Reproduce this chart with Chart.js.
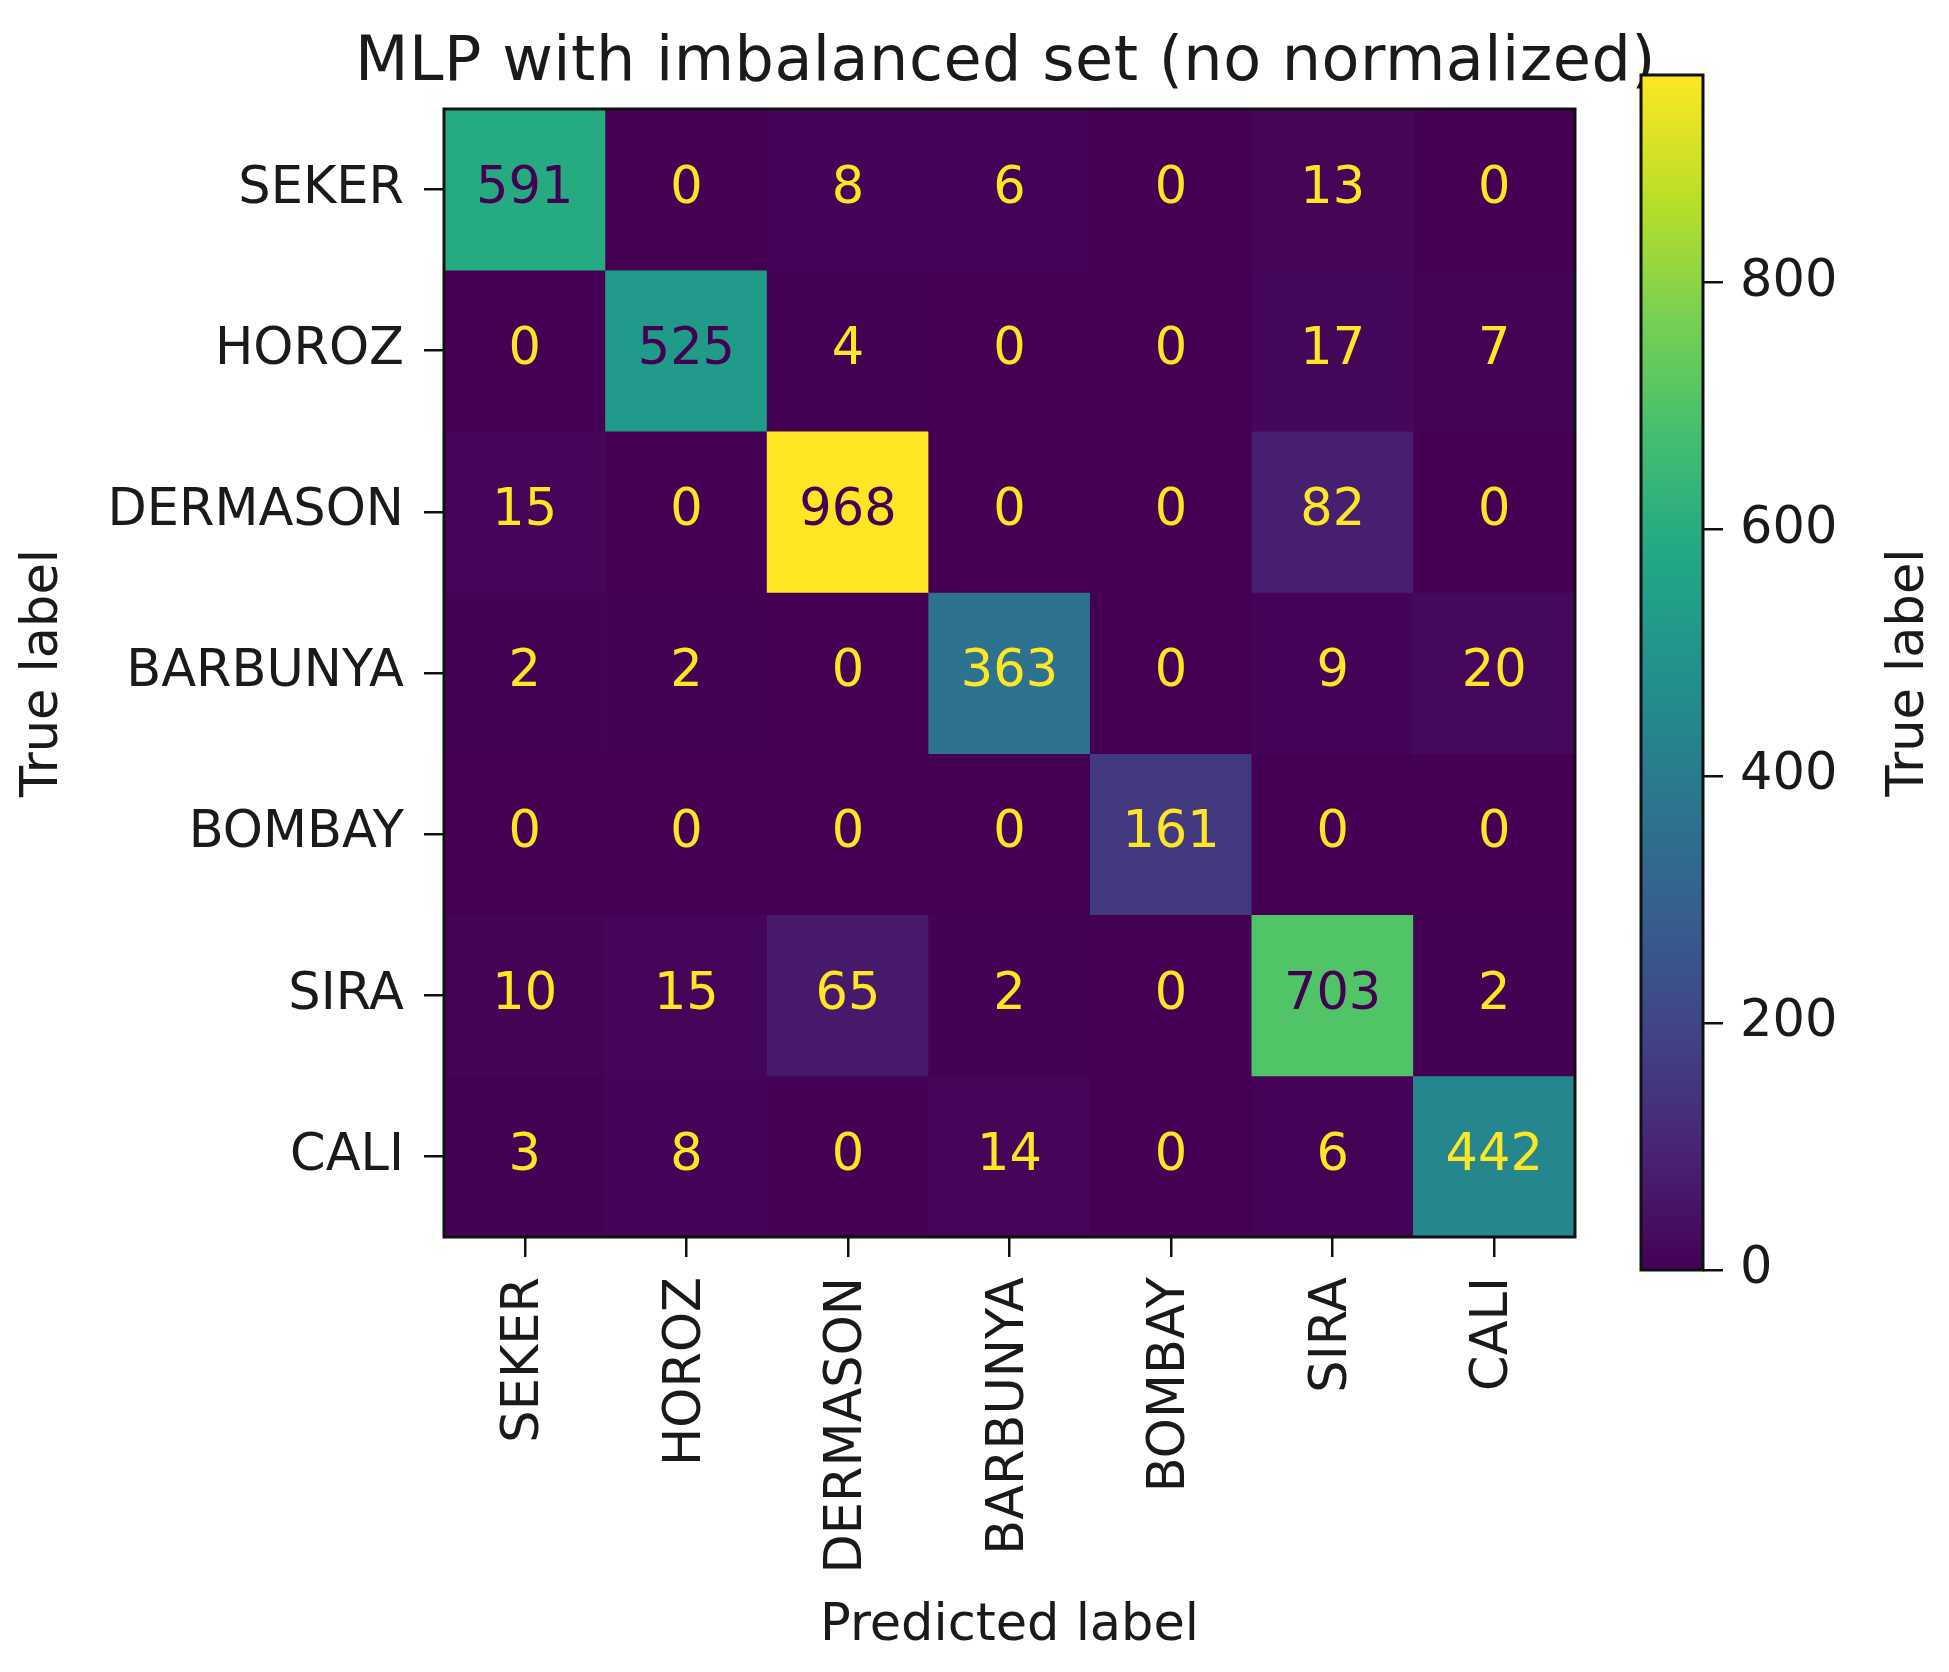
<!DOCTYPE html>
<html>
<head>
<meta charset="utf-8">
<script src="https://cdn.jsdelivr.net/npm/chart.js@4.4.1/dist/chart.umd.min.js"></script>
<style>
  html, body { margin: 0; padding: 0; background: #ffffff; }
  #wrap { position: relative; width: 1949px; height: 1672px; }
  #matrix { position: absolute; left: 0; top: 0; }
  #colorbar { position: absolute; left: 1560px; top: 0; }
</style>
</head>
<body>
<div id="wrap">
  <canvas id="matrix" width="1949" height="1672"></canvas>
  <canvas id="colorbar" width="389" height="1672"></canvas>
</div>
<script>
// confusion matrix: rows = true label, columns = predicted label
const classNames = ['SEKER', 'HOROZ', 'DERMASON', 'BARBUNYA', 'BOMBAY', 'SIRA', 'CALI'];
const rowSeker    = [591, 0, 8, 6, 0, 13, 0];
const rowHoroz    = [0, 525, 4, 0, 0, 17, 7];
const rowDermason = [15, 0, 968, 0, 0, 82, 0];
const rowBarbunya = [2, 2, 0, 363, 0, 9, 20];
const rowBombay   = [0, 0, 0, 0, 161, 0, 0];
const rowSira     = [10, 15, 65, 2, 0, 703, 2];
const rowCali     = [3, 8, 0, 14, 0, 6, 442];
const colorbarTicks = [0, 200, 400, 600, 800];
const titleText = 'MLP with imbalanced set (no normalized)';

const counts = [rowSeker, rowHoroz, rowDermason, rowBarbunya, rowBombay, rowSira, rowCali];
const vmin = Math.min(...counts.flat());
const vmax = Math.max(...counts.flat());

// viridis colormap, 11 stops
const viridisStops = ['#440154', '#482475', '#414487', '#355f8d', '#2a788e', '#21918c',
                      '#22a884', '#44bf70', '#7ad151', '#bddf26', '#fde725'];

function hexToRgb(h) {
    return [parseInt(h.slice(1, 3), 16), parseInt(h.slice(3, 5), 16), parseInt(h.slice(5, 7), 16)];
}

function viridis(t) {
    t = Math.max(0, Math.min(1, t));
    const p = t * (viridisStops.length - 1);
    const i = Math.min(Math.floor(p), viridisStops.length - 2);
    const f = p - i;
    const a = hexToRgb(viridisStops[i]), b = hexToRgb(viridisStops[i + 1]);
    const c = a.map((v, k) => Math.round(v + (b[k] - v) * f));
    return `rgb(${c[0]}, ${c[1]}, ${c[2]})`;
}

const norm = v => (v - vmin) / (vmax - vmin);
const threshold = (vmax + vmin) / 2;

Chart.defaults.font.family = '"DejaVu Sans", sans-serif';
Chart.defaults.color = '#1a1a1a';

const FONT = 51;

// black frame round the plot area
const framePlugin = {
    id: 'frame',
    afterDraw(chart) {
        const { ctx, chartArea: a } = chart;
        ctx.save();
        ctx.strokeStyle = '#111';
        ctx.lineWidth = 3;
        ctx.strokeRect(a.left, a.top, a.right - a.left, a.bottom - a.top);
        ctx.restore();
    }
};

// count printed in the middle of every cell
const cellLabelPlugin = {
    id: 'cellLabels',
    afterDatasetsDraw(chart) {
        const ctx = chart.ctx;
        ctx.save();
        ctx.font = `${FONT}px "DejaVu Sans"`;
        ctx.textAlign = 'center';
        ctx.textBaseline = 'middle';
        chart.data.datasets.forEach((ds, di) => {
            chart.getDatasetMeta(di).data.forEach((el, j) => {
                const v = counts[di][j];
                const c = el.getCenterPoint();
                ctx.fillStyle = v < threshold ? viridis(1) : viridis(0);
                ctx.fillText(String(v), c.x, c.y);
            });
        });
        ctx.restore();
    }
};

// title drawn by hand so it may run wider than the plot area
const titlePlugin = {
    id: 'plotTitle',
    afterDraw(chart) {
        const { ctx, chartArea: a } = chart;
        ctx.save();
        ctx.font = '62px "DejaVu Sans"';
        ctx.letterSpacing = '0.5px';
        ctx.fillStyle = '#1a1a1a';
        ctx.textAlign = 'center';
        ctx.textBaseline = 'alphabetic';
        ctx.fillText(titleText, (a.left + a.right) / 2 - 4, a.top - 29);
        ctx.restore();
    }
};

new Chart(document.getElementById('matrix'), {
    type: 'bar',
    data: {
        labels: classNames,
        datasets: counts.map((row, i) => ({
            label: classNames[i],
            data: row.map(() => [i - 0.5, i + 0.5]),
            backgroundColor: row.map(v => viridis(norm(v))),
            borderWidth: 0,
            barPercentage: 1,
            categoryPercentage: 1,
            grouped: false
        }))
    },
    options: {
        responsive: false,
        animation: false,
        layout: { padding: { left: 13, right: 374, top: 109, bottom: 0 } },
        plugins: {
            legend: { display: false },
            tooltip: { enabled: false },
            title: { display: false }
        },
        scales: {
            x: {
                type: 'category',
                grid: { offset: false, drawOnChartArea: false, drawTicks: true, tickLength: 20, color: '#111', lineWidth: 2.5 },
                border: { display: false },
                ticks: { minRotation: 90, maxRotation: 90, autoSkip: false, padding: 20, font: { size: FONT } },
                title: { display: true, text: 'Predicted label', font: { size: FONT }, padding: { top: 0, bottom: 15 } },
                afterFit(scale) { scale.height = 435; }
            },
            y: {
                type: 'linear',
                min: -0.5,
                max: 6.5,
                reverse: true,
                afterBuildTicks(scale) { scale.ticks = classNames.map((_, i) => ({ value: i })); },
                grid: { drawOnChartArea: false, drawTicks: true, tickLength: 20, color: '#111', lineWidth: 2.5 },
                border: { display: false },
                ticks: { padding: 20, font: { size: FONT }, callback: v => classNames[v] },
                title: { display: true, text: 'True label', font: { size: FONT }, padding: { top: 0, bottom: 0 } },
                afterFit(scale) { scale.width = 431; }
            }
        }
    },
    plugins: [cellLabelPlugin, framePlugin, titlePlugin]
});

// colorbar label reads bottom-to-top, so draw it by hand
const colorbarLabelPlugin = {
    id: 'colorbarLabel',
    afterDraw(chart) {
        const { ctx, chartArea: a } = chart;
        ctx.save();
        ctx.translate(a.right + 207, (a.top + a.bottom) / 2);
        ctx.rotate(-Math.PI / 2);
        ctx.font = `${FONT}px "DejaVu Sans"`;
        ctx.fillStyle = '#1a1a1a';
        ctx.textAlign = 'center';
        ctx.textBaseline = 'middle';
        ctx.fillText('True label', 0, 0);
        ctx.restore();
    }
};

new Chart(document.getElementById('colorbar'), {
    type: 'bar',
    data: {
        labels: [''],
        datasets: [{
            data: [[vmin, vmax]],
            backgroundColor: (c) => {
                const area = c.chart.chartArea;
                if (!area) return viridis(0.5);
                const g = c.chart.ctx.createLinearGradient(0, area.bottom, 0, area.top);
                viridisStops.forEach((s, i) => g.addColorStop(i / (viridisStops.length - 1), s));
                return g;
            },
            borderWidth: 0,
            barPercentage: 1,
            categoryPercentage: 1
        }]
    },
    options: {
        responsive: false,
        animation: false,
        layout: { padding: { left: 81, right: 0, top: 75, bottom: 402 } },
        plugins: { legend: { display: false }, tooltip: { enabled: false } },
        scales: {
            x: { display: false },
            y: {
                position: 'right',
                min: vmin,
                max: vmax,
                afterBuildTicks(scale) { scale.ticks = colorbarTicks.map(v => ({ value: v })); },
                grid: { drawOnChartArea: false, drawTicks: true, tickLength: 20, color: '#111', lineWidth: 2.5 },
                border: { display: false },
                ticks: { padding: 17, font: { size: FONT } },
                afterFit(scale) { scale.width = 246; }
            }
        }
    },
    plugins: [framePlugin, colorbarLabelPlugin]
});
</script>
</body>
</html>
